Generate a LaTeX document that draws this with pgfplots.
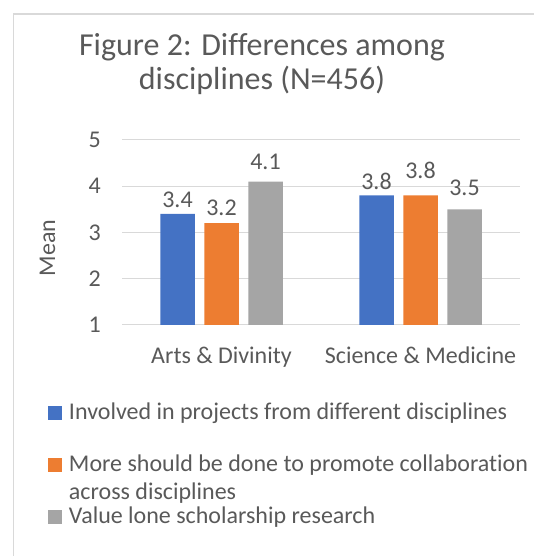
\documentclass[border=0pt]{standalone}
\usepackage{pgfplots}
\usepackage{pgfplotstable}
\pgfplotsset{compat=1.18}
\usepackage{fontspec}
\setmainfont{Carlito}[Ligatures=NoCommon]
\definecolor{cblue}{HTML}{4472C4}
\definecolor{corange}{HTML}{ED7D31}
\definecolor{cgray}{HTML}{A5A5A5}
\definecolor{tgray}{HTML}{595959}
\definecolor{ggray}{HTML}{D9D9D9}
\newcommand{\lbl}{\fontsize{24pt}{28pt}\selectfont}
\pgfplotstableread{
x v g
0 3.4 6
1 3.8 6
}\tblA
\pgfplotstableread{
x v g
0 3.2 8
1 3.8 17
}\tblB
\pgfplotstableread{
x v g
0 4.1 12
1 3.5 14
}\tblC
\begin{document}
\begin{tikzpicture}
\path[use as bounding box] (0pt,0pt) rectangle (534pt,556pt);
\draw[ggray, line width=1.5pt] (13.5pt,0pt) -- (13.5pt,542pt) -- (534pt,542pt);
\begin{axis}[
  at={(122pt,231pt)}, anchor=south west,
  width=398pt, height=185pt, scale only axis,
  ybar=9.5pt, bar width=34.5pt,
  xmin=-0.5, xmax=1.5, ymin=1, ymax=5,
  xtick={0,1}, xticklabels={Arts \& Divinity, Science \& Medicine},
  ytick={1,2,3,4,5},
  ymajorgrids, grid style={ggray, line width=1pt},
  axis line style={draw=none},
  major tick length=0pt,
  tick style={draw=none},
  /pgf/number format/assume math mode=true,
  /pgf/number format/fixed,
  /pgf/number format/precision=1,
  tick label style={font=\lbl, text=tgray},
  yticklabel style={anchor=east, inner sep=0pt, xshift=-21pt},
  xticklabel style={anchor=base, inner sep=0pt, yshift=-38.3pt},
  ylabel={Mean},
  every axis y label/.style={at={(axis description cs:0,0.5)}, xshift=-74.5pt, yshift=-15.5pt, rotate=90, anchor=center, font=\lbl, text=tgray, inner sep=0pt},
  nodes near coords,
  visualization depends on={\thisrow{g} \as \gap},
  nodes near coords style={font=\lbl, text=tgray, anchor=base, yshift=\gap pt, inner sep=0pt},
  legend image code/.code={\fill[#1,draw=none] (0pt,0pt) rectangle (13.4pt,13.4pt);},
  legend style={at={(axis description cs:-0.1852,-0.4038)}, anchor=north west, draw=none, fill=none, inner sep=0pt, outer sep=0pt, row sep=28.5pt, font=\lbl, text=tgray, cells={anchor=base west, inner sep=0pt}, /tikz/every odd column/.append style={column sep=5.3pt}},
]
\addplot[fill=cblue, draw=none] table[x=x,y=v]{\tblA};
\addlegendentry{\rule{0pt}{18pt}Involved in projects from different disciplines}
\addplot[fill=corange, draw=none] table[x=x,y=v]{\tblB};
\addlegendentry{\vtop{\baselineskip=27.7pt\lineskiplimit=-50pt\hbox{\rule{0pt}{18pt}More should be done to promote collaboration}\hbox{\rule[-7pt]{0pt}{7pt}across disciplines}}}
\addplot[fill=cgray, draw=none] table[x=x,y=v]{\tblC};
\addlegendentry{\rule{0pt}{18pt}Value lone scholarship research}
\end{axis}
\node[anchor=base, font=\fontsize{32pt}{36pt}\selectfont, text=tgray, inner sep=0pt] at (262pt,500pt) {Figure 2: Differences among};
\node[anchor=base, font=\fontsize{32pt}{36pt}\selectfont, text=tgray, inner sep=0pt] at (262pt,466pt) {disciplines (N=456)};
\end{tikzpicture}
\end{document}
